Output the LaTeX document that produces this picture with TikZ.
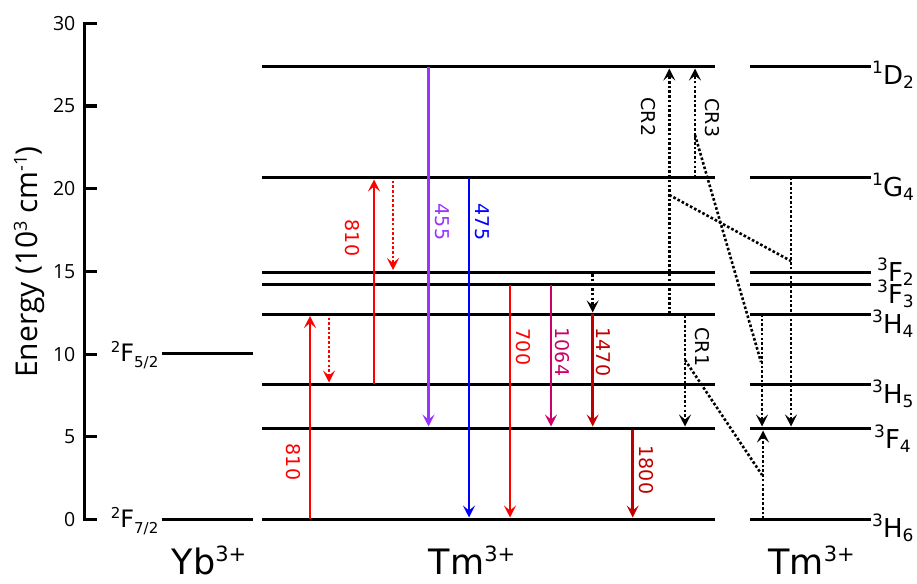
\documentclass[tikz,border=0pt]{standalone}
\usepackage{fontspec}
\setmainfont{DejaVu Sans}
\newfontfamily\axfont{Open Sans}
\usetikzlibrary{arrows.meta}
\definecolor{cred}{RGB}{255,0,0}
\definecolor{cpurple}{RGB}{153,51,255}
\definecolor{cblue}{RGB}{0,0,255}
\definecolor{cmag}{RGB}{204,0,102}
\definecolor{cdred}{RGB}{192,0,0}
\newcommand{\tmlab}[3]{{\fontsize{17}{17}\selectfont\raisebox{11pt}{#1}}#2{\fontsize{17}{17}\selectfont\raisebox{-4pt}{#3}}}
\newcommand{\yblab}[3]{{\fontsize{15}{15}\selectfont\raisebox{9.5pt}{#1}}#2{\fontsize{15}{15}\selectfont\raisebox{-6pt}{#3}}}
\newcommand{\ionlab}[2]{{\fontsize{35}{38}\selectfont #1\raisebox{13pt}{\fontsize{21}{21}\selectfont #2}}}
\def\yDt{67}
\def\yGf{177.5}
\def\yFt{272}
\def\yFth{284.5}
\def\yHf{314}
\def\yHfi{384.3}
\def\yFf{428.3}
\def\yHs{519}
\def\yYb{353.3}
\begin{document}
\begin{tikzpicture}[x=1pt,y=-1pt,
  lvl/.style={line width=3pt,black},
  tip/.style={-{Stealth[length=12pt,width=12pt,inset=5pt]}},
  sarr/.style={line width=2.5pt,tip},
  dline/.style={line width=2.6pt,dash pattern=on 2.6pt off 2.1pt},
  darr/.style={dline,tip},
  wl/.style={rotate=-90,inner sep=0,font=\fontsize{19}{22}\selectfont},
  lablvl/.style={anchor=base west,inner sep=0,font=\fontsize{26}{30}\selectfont},
  labyb/.style={anchor=base east,inner sep=0,font=\fontsize{24}{28}\selectfont},
  tick/.style={anchor=east,inner sep=0,font={\axfont\fontsize{19.5}{22}\selectfont}}]
\useasboundingbox (0,0) rectangle (917,583);
% axis
\draw[line width=3pt] (97,23.3) -- (84,23.3) -- (84,519.5) -- (97,519.5);
\foreach \v in {5,10,15,20,25} {
  \draw[line width=3pt] (84,{519.5-\v*16.54}) -- (97,{519.5-\v*16.54});
}
\foreach \v in {0,5,10,15,20,25,30} {
  \node[tick] (t\v) at (75.5,{519.5-\v*16.54}) {\v};
}
\node[rotate=90,anchor=base,inner sep=0,font={\axfont\fontsize{30}{34}\selectfont}] (ylab) at (37,262)
  {Energy (10\raisebox{10pt}{\fontsize{18}{18}\selectfont 3} cm\raisebox{10pt}{\fontsize{18}{18}\selectfont -1})};
% Yb levels
\draw[lvl] (161.7,\yYb) -- (253.3,\yYb);
\draw[lvl] (161.7,\yHs) -- (253.3,\yHs);
\node[labyb] (yb1) at (158.5,{\yYb+8.5}) {\yblab{2}{F}{5/2}};
\node[labyb] (yb0) at (158.5,{\yHs+8.5}) {\yblab{2}{F}{7/2}};
% Tm levels
\foreach \yy in {\yDt,\yGf,\yFt,\yFth,\yHf,\yHfi,\yFf,\yHs} {
  \draw[lvl] (262,\yy) -- (714.5,\yy);
  \draw[lvl] (750,\yy) -- (870.5,\yy);
}
\node[lablvl] (lD2) at (872,84.5) {\tmlab{1}{D}{2}};
\node[lablvl] (lG4) at (872,196.5) {\tmlab{1}{G}{4}};
\node[lablvl] (lF2) at (877,281) {\tmlab{3}{F}{2}};
\node[lablvl] (lF3) at (877,303.5) {\tmlab{3}{F}{3}};
\node[lablvl] (lH4) at (872,333) {\tmlab{3}{H}{4}};
\node[lablvl] (lH5) at (872,403) {\tmlab{3}{H}{5}};
\node[lablvl] (lF4) at (874,448) {\tmlab{3}{F}{4}};
\node[lablvl] (lH6) at (872,537.5) {\tmlab{3}{H}{6}};
% ion labels
\node[anchor=base,inner sep=0] (ionYb) at (209,574.5) {\ionlab{Yb}{3+}};
\node[anchor=base,inner sep=0] (ionTm) at (472,574.5) {\ionlab{Tm}{3+}};
\node[anchor=base,inner sep=0] (ionTmR) at (811.5,574.5) {\ionlab{Tm}{3+}};
% arrow coordinates
\coordinate (a1s) at (310,\yHs);   \coordinate (a1e) at (310,316);
\coordinate (a2s) at (329,317.5);  \coordinate (a2e) at (329,382.5);
\coordinate (a3s) at (374,\yHfi);  \coordinate (a3e) at (374,179.5);
\coordinate (a4s) at (393,180.5);  \coordinate (a4e) at (393,270);
\coordinate (a5s) at (428.5,\yDt); \coordinate (a5e) at (428.5,426.5);
\coordinate (a6s) at (469,\yGf);   \coordinate (a6e) at (469,517.5);
\coordinate (a7s) at (510,\yFth);  \coordinate (a7e) at (510,517.5);
\coordinate (a8s) at (551,\yFth);  \coordinate (a8e) at (551,426.5);
\coordinate (a9s) at (592.7,274);  \coordinate (a9e) at (592.7,312.5);
\coordinate (a10s) at (592.7,\yHf); \coordinate (a10e) at (592.7,426.5);
\coordinate (a11s) at (632.7,430); \coordinate (a11e) at (632.7,517.5);
\coordinate (c2s) at (669.3,\yHf); \coordinate (c2e) at (669.3,68.5);
\coordinate (c3s) at (695,\yGf);   \coordinate (c3e) at (695,68.5);
\coordinate (c1s) at (685,315.5);  \coordinate (c1e) at (685,426.5);
\coordinate (d2s) at (669.3,195);  \coordinate (d2e) at (791,261);
\coordinate (d3s) at (695,135);    \coordinate (d3e) at (761,362);
\coordinate (d1s) at (685,360);    \coordinate (d1e) at (762,475);
\coordinate (r1s) at (791,\yGf);   \coordinate (r1e) at (791,426.5);
\coordinate (r2s) at (762,\yHf);   \coordinate (r2e) at (762,426.5);
\coordinate (r3s) at (763,\yHs);   \coordinate (r3e) at (763,430.5);
% coloured transitions
\draw[sarr,cred] (a1s) -- (a1e);
\draw[darr,cred] (a2s) -- (a2e);
\draw[sarr,cred] (a3s) -- (a3e);
\draw[darr,cred] (a4s) -- (a4e);
\draw[sarr,cpurple] (a5s) -- (a5e);
\draw[sarr,cblue] (a6s) -- (a6e);
\draw[sarr,cred] (a7s) -- (a7e);
\draw[sarr,cmag] (a8s) -- (a8e);
\draw[darr,black] (a9s) -- (a9e);
\draw[sarr,cdred] (a10s) -- (a10e);
\draw[sarr,cdred] (a11s) -- (a11e);
% cross relaxation
\draw[darr] (c2s) -- (c2e);
\draw[darr] (c3s) -- (c3e);
\draw[darr] (c1s) -- (c1e);
\draw[dline] (d2s) -- (d2e);
\draw[dline] (d3s) -- (d3e);
\draw[dline] (d1s) -- (d1e);
\draw[darr] (r1s) -- (r1e);
\draw[darr] (r2s) -- (r2e);
\draw[darr] (r3s) -- (r3e);
% wavelength labels
\node[wl,text=cred] (w810a) at (293,462) {810};
\node[wl,text=cred] (w810b) at (352,238) {810};
\node[wl,text=cpurple] (w455) at (442,222) {455};
\node[wl,text=cblue] (w475) at (482,222) {475};
\node[wl,text=cred] (w700) at (523.5,347) {700};
\node[wl,text=cmag] (w1064) at (562,352) {1064};
\node[wl,text=cdred] (w1470) at (603.5,352) {1470};
\node[wl,text=cdred] (w1800) at (646,470) {1800};
\node[wl] (cr2) at (648,117) {CR2};
\node[wl] (cr3) at (712.7,118) {CR3};
\node[wl] (cr1) at (702.7,347) {CR1};
\end{tikzpicture}
\end{document}
